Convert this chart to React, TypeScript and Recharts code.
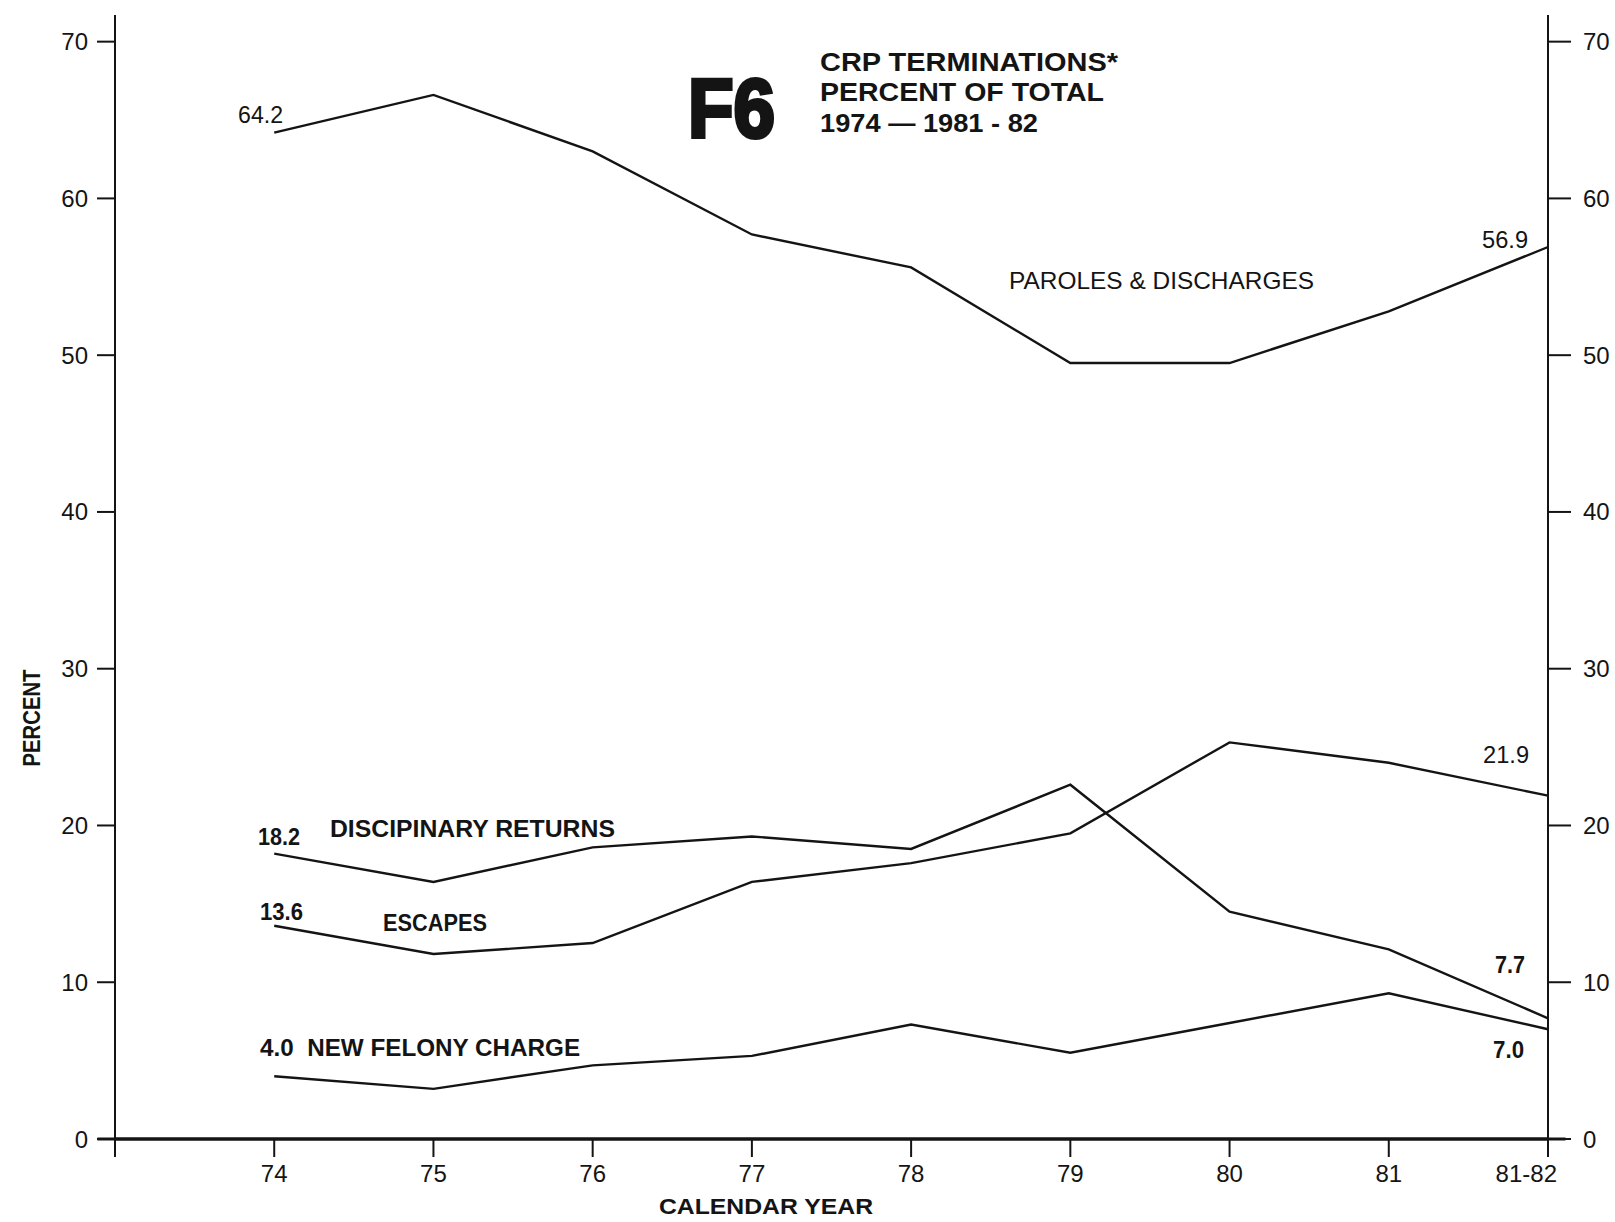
import React from "react";
import { LineChart, Line, XAxis, YAxis, ReferenceDot, ReferenceLine } from "recharts";

// calendar years on a numeric axis, 82 stands for the 1981-82 fiscal year
const years = [74, 75, 76, 77, 78, 79, 80, 81, 82];
const yearLabels = ["74", "75", "76", "77", "78", "79", "80", "81", "81-82"];

const paroles = [64.2, 66.6, 63.0, 57.7, 55.6, 49.5, 49.5, 52.8, 56.9];
const disciplinary = [18.2, 16.4, 18.6, 19.3, 18.5, 22.6, 14.5, 12.1, 7.7];
const escapes = [13.6, 11.8, 12.5, 16.4, 17.6, 19.5, 25.3, 24.0, 21.9];
const felony = [4.0, 3.2, 4.7, 5.3, 7.3, 5.5, 7.4, 9.3, 7.0];

const yTicks = [0, 10, 20, 30, 40, 50, 60, 70];
const xTicks = [73, 74, 75, 76, 77, 78, 79, 80, 81, 82];

// text written on the chart next to the lines (x,y in data units = left edge, middle)
const notes = [
    { text: "64.2", x: 73.773, y: 65.33, w: 45, bold: false },
    { text: "56.9", x: 81.586, y: 57.35, w: 46, bold: false },
    { text: "PAROLES & DISCHARGES", x: 78.615, y: 54.74, w: 305, bold: false },
    { text: "18.2", x: 73.898, y: 19.28, w: 42, bold: true },
    { text: "DISCIPINARY RETURNS", x: 74.35, y: 19.79, w: 285, bold: true },
    { text: "13.6", x: 73.911, y: 14.5, w: 43, bold: true },
    { text: "ESCAPES", x: 74.683, y: 13.8, w: 104, bold: true },
    { text: "4.0  NEW FELONY CHARGE", x: 73.911, y: 5.82, w: 320, bold: true },
    { text: "21.9", x: 81.592, y: 24.51, w: 46, bold: false },
    { text: "7.7", x: 81.667, y: 11.12, w: 30, bold: true },
    { text: "7.0", x: 81.655, y: 5.69, w: 31, bold: true },
];

const data = years.map((x, i) => ({
    x,
    paroles: paroles[i],
    disciplinary: disciplinary[i],
    escapes: escapes[i],
    felony: felony[i],
}));

const FONT = "'Liberation Sans', Arial, Helvetica, sans-serif";
const INK = "#141414";

const XTick = (props: any) => {
    const { x, y, payload } = props;
    const i = years.indexOf(payload.value);
    if (i < 0) return <g />;
    const last = payload.value === 82;
    return (
        <text
            x={last ? x + 9 : x}
            y={y}
            dy="0.71em"
            textAnchor={last ? "end" : "middle"}
            fill={INK}
            fontSize={24}
            fontFamily={FONT}
        >
            {yearLabels[i]}
        </text>
    );
};

export default function App() {
    // both y axes share one scale; felony sits on the right one so it gets ticks too
    const series = [
        { key: "paroles", axis: "left" },
        { key: "disciplinary", axis: "left" },
        { key: "escapes", axis: "left" },
        { key: "felony", axis: "right" },
    ];
    return (
        <div style={{ position: "absolute", left: 0, top: 0, width: 1615, height: 1222, background: "#fff", fontFamily: FONT }}>
            <LineChart width={1615} height={1222} data={data} margin={{ top: 15, right: 7, bottom: 33, left: 55 }}>
                <XAxis
                    dataKey="x"
                    type="number"
                    domain={[73, 82]}
                    ticks={xTicks}
                    height={50}
                    tickSize={18}
                    tickMargin={8}
                    tick={<XTick />}
                    axisLine={{ stroke: INK, strokeWidth: 3 }}
                    tickLine={{ stroke: INK, strokeWidth: 2 }}
                    interval={0}
                />
                <YAxis
                    yAxisId="left"
                    orientation="left"
                    width={60}
                    domain={[0, 71.7]}
                    ticks={yTicks}
                    tickSize={18}
                    tickMargin={9}
                    tick={{ fill: INK, fontSize: 24, fontFamily: FONT }}
                    axisLine={{ stroke: INK, strokeWidth: 2 }}
                    tickLine={{ stroke: INK, strokeWidth: 2 }}
                    interval={0}
                />
                <YAxis
                    yAxisId="right"
                    orientation="right"
                    width={60}
                    domain={[0, 71.7]}
                    ticks={yTicks}
                    tickSize={23}
                    tickMargin={12}
                    tick={{ fill: INK, fontSize: 24, fontFamily: FONT }}
                    axisLine={{ stroke: INK, strokeWidth: 2 }}
                    tickLine={{ stroke: INK, strokeWidth: 2 }}
                    interval={0}
                />
                <ReferenceLine
                    yAxisId="left"
                    segment={[{ x: 72.89, y: 0 }, { x: 82.11, y: 0 }]}
                    stroke={INK}
                    strokeWidth={3}
                    ifOverflow="visible"
                />
                {series.map((s) => (
                    <Line
                        key={s.key}
                        yAxisId={s.axis}
                        type="linear"
                        dataKey={s.key}
                        stroke={INK}
                        strokeWidth={2.4}
                        dot={false}
                        activeDot={false}
                        isAnimationActive={false}
                    />
                ))}
                {notes.map((n) => (
                    <ReferenceDot
                        key={n.text}
                        yAxisId="left"
                        x={n.x}
                        y={n.y}
                        r={0}
                        ifOverflow="visible"
                        shape={(p: any) => (
                            <text
                                x={p.cx}
                                y={p.cy}
                                dominantBaseline="central"
                                fontSize={24}
                                fontFamily={FONT}
                                fontWeight={n.bold ? 700 : 400}
                                fill={INK}
                                textLength={n.w}
                                lengthAdjust="spacingAndGlyphs"
                                style={{ whiteSpace: "pre" }}
                            >
                                {n.text}
                            </text>
                        )}
                    />
                ))}
            </LineChart>
            <svg width={1615} height={1222} style={{ position: "absolute", left: 0, top: 0, pointerEvents: "none" }}>
                <text x={688} y={137} fontSize={84} fontWeight={900} fontFamily={FONT} fill={INK} stroke={INK} strokeWidth={4} textLength={87} lengthAdjust="spacingAndGlyphs">
                    F6
                </text>
                <g fontSize={25} fontWeight={700} fontFamily={FONT} fill={INK}>
                    <text x={820} y={71} textLength={298} lengthAdjust="spacingAndGlyphs">CRP TERMINATIONS*</text>
                    <text x={820} y={101} textLength={284} lengthAdjust="spacingAndGlyphs">PERCENT OF TOTAL</text>
                    <text x={820} y={132} textLength={218} lengthAdjust="spacingAndGlyphs">1974 — 1981 - 82</text>
                </g>
                <text x={766} y={1214} textAnchor="middle" fontSize={22} fontWeight={700} fontFamily={FONT} fill={INK} textLength={214} lengthAdjust="spacingAndGlyphs">
                    CALENDAR YEAR
                </text>
                <text
                    x={0}
                    y={0}
                    transform="translate(40 718) rotate(-90)"
                    textAnchor="middle"
                    fontSize={23}
                    fontWeight={700}
                    fontFamily={FONT}
                    fill={INK}
                    textLength={97}
                    lengthAdjust="spacingAndGlyphs"
                >
                    PERCENT
                </text>
            </svg>
        </div>
    );
}
